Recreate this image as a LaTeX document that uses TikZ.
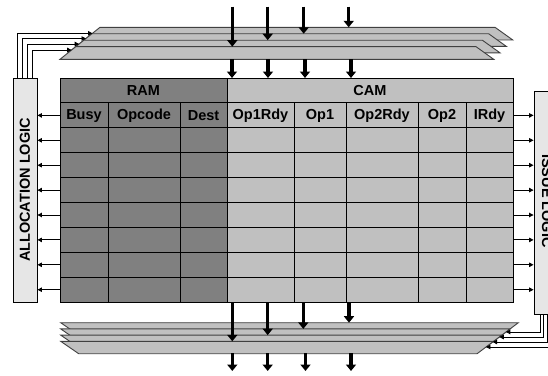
\documentclass[tikz,border=0pt]{standalone}
\usepackage{fontspec}
\setmainfont{Liberation Sans}
\usetikzlibrary{arrows.meta,calc}
\definecolor{ramgray}{HTML}{808080}
\definecolor{camgray}{HTML}{C0C0C0}
\definecolor{boxgray}{HTML}{E6E6E6}
\definecolor{busedge}{HTML}{404040}
\begin{document}
\begin{tikzpicture}[x=1pt,y=-1pt,
  lbl/.style={font=\fontsize{14.5}{17}\selectfont\bfseries, inner sep=0pt, text=black},
  gridline/.style={draw=black, line width=0.9pt},
  buslayer/.style={fill=camgray, draw=busedge, line width=0.9pt, line join=miter},
  bigarrow/.style={line width=3.2pt, -{Triangle[width=10pt,length=6.5pt]}},
  smallarrow/.style={line width=0.9pt, -{Triangle[width=4.5pt,length=4.5pt]}},
  logicbox/.style={draw=black, fill=boxgray, line width=0.9pt, inner sep=0pt}
]
\useasboundingbox (0,0) rectangle (548,375);
\clip (0,0) rectangle (548,375);
\fill[white] (0,0) rectangle (548,375);

% ---------- top bus (four stacked layers)
\foreach \k in {0,1,2,3}{
  \pgfmathsetmacro\yt{27.3+6.45*\k}
  \pgfmathsetmacro\yb{\yt+12.65}
  \pgfmathsetmacro\xlt{60+(59.3-\yt)*1.25}
  \pgfmathsetmacro\xlb{60+(59.3-\yb)*1.25}
  \pgfmathsetmacro\xrt{495-6.33*\k}
  \pgfmathsetmacro\xrb{\xrt+17.7}
  \draw[buslayer] (\xlt,\yt) -- (\xrt,\yt) -- (\xrb,\yb) -- (\xlb,\yb) -- cycle;
}

% ---------- bottom bus (four stacked layers)
\foreach \k in {0,1,2,3}{
  \pgfmathsetmacro\yt{322.7+6.2*\k}
  \pgfmathsetmacro\yb{\yt+12.4}
  \pgfmathsetmacro\xrt{518.3-(\yt-322.7)*1.33}
  \pgfmathsetmacro\xrb{518.3-(\yb-322.7)*1.33}
  \draw[buslayer] (60.7,\yt) -- (\xrt,\yt) -- (\xrb,\yb) -- (78.7,\yb) -- cycle;
}

% ---------- table
\fill[ramgray] (60,78) rectangle (227,302.1);
\fill[camgray] (227,78) rectangle (513,302.1);
\foreach \j in {1,...,8} \draw[gridline] (60,{78+24.9*\j}) -- (513,{78+24.9*\j});
\foreach \x in {108,180,294,346,418,466} \draw[gridline] (\x,102.9) -- (\x,302.1);
\draw[gridline] (227,78) -- (227,302.1);
\draw[gridline] (60,78) rectangle (513,302.1);

\node[lbl] (ram) at (143.5,90.6) {RAM};
\node[lbl] (cam) at (370,90.6) {CAM};
\foreach \nm/\x/\t in {busy/84/Busy, opcode/144/Opcode, dest/203.5/Dest, oprdy/260.5/Op1Rdy,
  opone/320/Op1, optrdy/382/Op2Rdy, optwo/442/Op2, irdy/489.5/IRdy}
  \node[lbl] (\nm) at (\x,115.6) {\t};

% ---------- logic boxes
\node[logicbox, minimum width=24pt, minimum height=224pt] (alloc) at (25,190) {};
\node[lbl, rotate=90] (alloclbl) at (alloc.center) {ALLOCATION LOGIC};
\node[logicbox, minimum width=24pt, minimum height=223pt] (issue) at (546,202.5) {};
\node[lbl, rotate=-90] (issuelbl) at (547,201) {ISSUE LOGIC};

% ---------- row arrows
\foreach \j in {0,...,7}{
  \coordinate (rl\j) at (60,{115.4+24.9*\j});
  \coordinate (rr\j) at (513,{115.4+24.9*\j});
  \draw[smallarrow] (rl\j) -- (rl\j -| alloc.east);
  \draw[smallarrow] (rr\j) -- (rr\j -| issue.west);
}

% ---------- feedback from allocation logic to top bus
\foreach \i/\vx/\hy in {1/17.3/33.3, 2/22.3/38.5, 3/27.3/44, 4/32.3/50}{
  \pgfmathsetmacro\tx{60+(59.3-\hy)*1.25}
  \coordinate (as\i) at (\vx,78);
  \coordinate (ae\i) at (\tx,\hy);
  \draw[smallarrow] (as\i) |- (ae\i);
}
% ---------- feedback from issue logic to bottom bus
\foreach \i/\vx/\hy in {1/540/332, 2/543.5/337, 3/547/342, 4/550.5/347}{
  \pgfmathsetmacro\tx{518.3-(\hy-322.7)*1.33}
  \coordinate (is\i) at (\vx,314);
  \coordinate (ie\i) at (\tx,\hy);
  \draw[smallarrow] (is\i) |- (ie\i);
}

% ---------- bus arrows
\foreach \i/\x/\y in {1/232.3/46.65, 2/267.7/40.2, 3/303.7/33.75, 4/348.7/27.3}{
  \coordinate (ti\i) at (\x,6.5);
  \coordinate (te\i) at (\x,\y);
  \draw[bigarrow] (ti\i) -- (te\i);
}
\foreach \i/\x in {1/232,2/268,3/305,4/351}{
  \coordinate (mi\i) at (\x,59.3);
  \coordinate (me\i) at (\x,78);
  \draw[bigarrow] (mi\i) -- (me\i);
}
\foreach \i/\x/\y in {1/232.3/341.3, 2/267.7/335.1, 3/303.3/328.9, 4/349/322.7}{
  \coordinate (bi\i) at (\x,302.1);
  \coordinate (be\i) at (\x,\y);
  \draw[bigarrow] (bi\i) -- (be\i);
}
\foreach \i/\x in {1/232.3,2/267.7,3/305.5,4/351}{
  \coordinate (oi\i) at (\x,353.1);
  \coordinate (oe\i) at (\x,371);
  \draw[bigarrow] (oi\i) -- (oe\i);
}
\end{tikzpicture}
\end{document}
